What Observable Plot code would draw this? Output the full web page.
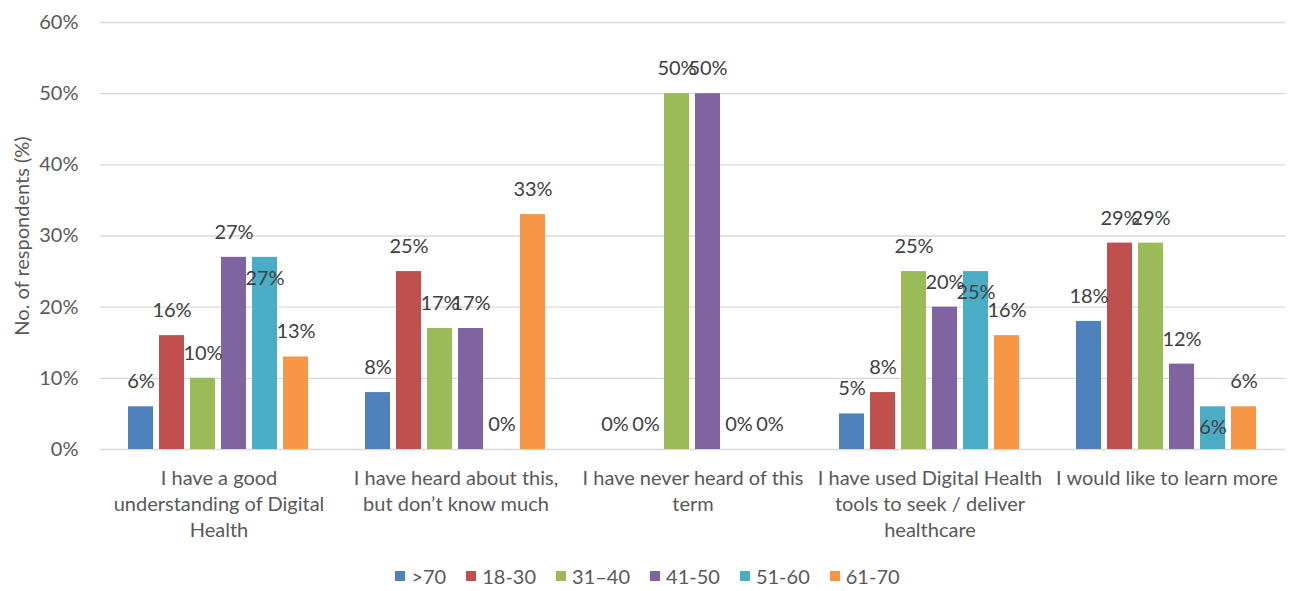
<!DOCTYPE html>
<html>
<head>
<meta charset="utf-8">
<script src="https://cdn.jsdelivr.net/npm/d3@7"></script>
<script src="https://cdn.jsdelivr.net/npm/@observablehq/plot@0.6"></script>
<style>
  html, body { margin: 0; padding: 0; background: #fff; overflow: hidden; }
  #chart svg { display: block; }
  .legend {
    display: flex; justify-content: center; align-items: center;
    height: 31px; font-family: Lato, sans-serif; font-size: 20px; color: #595959;
  }
  .legend .item { display: flex; align-items: center; margin: 0 10px; }
  .legend .swatch { width: 10px; height: 10px; margin-right: 6px; }
</style>
</head>
<body>
<div id="chart"></div>
<div class="legend" id="legend"></div>
<script>
// Survey answers (x facets) and respondent age groups (bars within each answer)
const categories = [
  "I have a good understanding of Digital Health",
  "I have heard about this, but don’t know much",
  "I have never heard of this term",
  "I have used Digital Health tools to seek / deliver healthcare",
  "I would like to learn more"
];
const tickLabels = [
  "I have a good\nunderstanding of Digital\nHealth",
  "I have heard about this,\nbut don’t know much",
  "I have never heard of this\nterm",
  "I have used Digital Health\ntools to seek / deliver\nhealthcare",
  "I would like to learn more"
];
const ageGroups = [">70", "18-30", "31–40", "41-50", "51-60", "61-70"];
const ageColors = ["#4f81bd", "#c0504d", "#9bbb59", "#8064a2", "#4bacc6", "#f79646"];

// Share of respondents (%) per age group, in the order of ageGroups
const goodUnderstanding = [6, 16, 10, 27, 27, 13];
const heardButLittle    = [8, 25, 17, 17, 0, 33];
const neverHeard        = [0, 0, 50, 50, 0, 0];
const usedTools         = [5, 8, 25, 20, 25, 16];
const wantToLearn       = [18, 29, 29, 12, 6, 6];

const yTicks = [0, 10, 20, 30, 40, 50, 60];

const rows = [goodUnderstanding, heardButLittle, neverHeard, usedTools, wantToLearn];
const data = categories.flatMap((category, i) =>
  ageGroups.map((age, j) => ({category, age, value: rows[i][j]}))
);

// 51-60 labels sit just inside the top of their bars; the rest sit above
const insideLabel = (d) => d.age === "51-60" && d.value > 0;

const chart = Plot.plot({
  width: 1295,
  height: 560,
  marginTop: 22,
  marginLeft: 100,
  marginRight: 10,
  marginBottom: 111,
  style: {fontFamily: "Lato, sans-serif", fontSize: "20px", color: "#595959", background: "#fff"},
  fx: {domain: categories, padding: 0, label: null},
  x: {domain: ageGroups, paddingInner: 0.18, paddingOuter: 0.84, axis: null},
  y: {domain: [0, 60], label: null},
  color: {domain: ageGroups, range: ageColors},
  marks: [
    Plot.gridY(yTicks, {stroke: "#d9d9d9", strokeOpacity: 1, strokeWidth: 1.3}),
    Plot.axisY({
      ticks: yTicks, tickFormat: (d) => d + "%", tickSize: 0, tickPadding: 22,
      fontSize: 20, label: "No. of respondents (%)", labelAnchor: "center",
      labelOffset: 86, labelArrow: false
    }),
    Plot.axisFx({
      anchor: "bottom", tickSize: 0, tickPadding: 17, fontSize: 20, lineHeight: 1.3,
      tickFormat: (d) => tickLabels[categories.indexOf(d)], label: null
    }),
    Plot.barY(data, {fx: "category", x: "age", y: "value", fill: "age"}),
    Plot.text(data.filter((d) => !insideLabel(d)), {
      fx: "category", x: "age", y: "value", text: (d) => d.value + "%",
      dy: -25, fill: "#404040", fontSize: 20
    }),
    Plot.text(data.filter(insideLabel), {
      fx: "category", x: "age", y: "value", text: (d) => d.value + "%",
      dy: 21, fill: "#404040", fontSize: 20
    })
  ]
});
document.getElementById("chart").append(chart);

// Legend below the chart
const legend = document.getElementById("legend");
ageGroups.forEach((age, i) => {
  const item = document.createElement("div");
  item.className = "item";
  const sw = document.createElement("span");
  sw.className = "swatch";
  sw.style.background = ageColors[i];
  const label = document.createElement("span");
  label.textContent = age;
  item.append(sw, label);
  legend.append(item);
});
</script>
</body>
</html>
